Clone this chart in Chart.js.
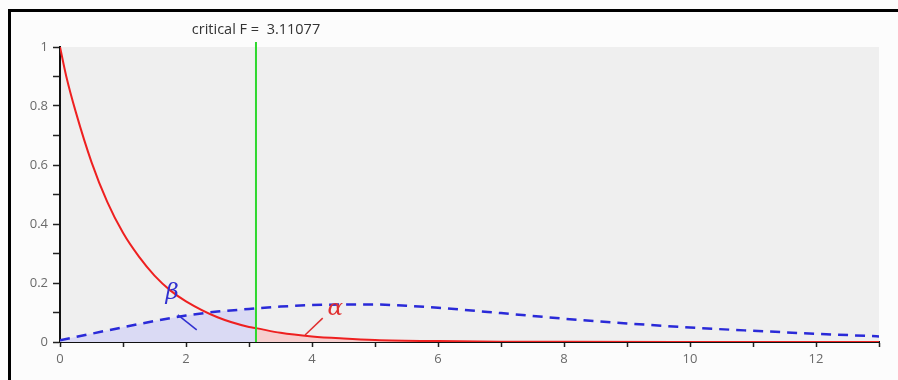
<!DOCTYPE html>
<html>
<head>
<meta charset="utf-8">
<script src="https://cdn.jsdelivr.net/npm/chart.js@4/dist/chart.umd.min.js"></script>
<style>
  html, body { margin: 0; padding: 0; background: #fff; }
  #wrap { position: relative; width: 898px; height: 380px; background: #fcfcfc; }
  #frame { position: absolute; left: 8px; top: 9px; right: 0; bottom: 0; border-top: 3px solid #000; border-left: 3px solid #000; pointer-events: none; }
  canvas { position: absolute; left: 0; top: 0; }
</style>
</head>
<body>
<div id="wrap">
  <canvas id="chart" width="898" height="380"></canvas>
  <div id="frame"></div>
</div>
<script>
const critF = 3.11077;

// central F density (red, alpha side)
const alphaX = [0, 0.1, 0.25, 0.5, 0.75, 1, 1.25, 1.5, 1.75, 2, 2.5, 3, critF, 3.5, 4, 4.5, 5, 6, 7, 8, 10, 13];
const alphaY = [1, 0.9, 0.78, 0.61, 0.475, 0.37, 0.29, 0.225, 0.175, 0.138, 0.084, 0.051, 0.047, 0.031, 0.019, 0.012, 0.007, 0.003, 0.0012, 0.0005, 0.0001, 0];

// noncentral F density (blue dashed, beta side)
const betaX = [0, 0.5, 1, 1.5, 2, 2.5, 3, critF, 3.5, 4, 4.5, 5, 5.5, 6, 7, 8, 9, 10, 11, 12, 13];
const betaY = [0.006, 0.028, 0.05, 0.071, 0.09, 0.103, 0.112, 0.114, 0.12, 0.125, 0.127, 0.127, 0.123, 0.116, 0.098, 0.079, 0.063, 0.049, 0.038, 0.028, 0.019];

const xTicks = [0, 2, 4, 6, 8, 10, 12];
const yTicks = [0, 0.2, 0.4, 0.6, 0.8, 1];

const toPts = (xs, ys) => xs.map((x, i) => ({ x: x, y: ys[i] }));
const alphaPts = toPts(alphaX, alphaY);
const betaPts = toPts(betaX, betaY);

const greyArea = {
  id: 'greyArea',
  beforeDraw(chart) {
    const { ctx, chartArea: a } = chart;
    ctx.save();
    ctx.fillStyle = '#efefef';
    ctx.fillRect(a.left, a.top, a.right - a.left, a.bottom - a.top);
    ctx.restore();
  }
};

const marks = {
  id: 'marks',
  afterDatasetsDraw(chart) {
    const { ctx, chartArea: a, scales: { x, y } } = chart;
    const px = x.getPixelForValue(critF);
    ctx.save();
    // critical value line
    ctx.strokeStyle = '#2ed82e';
    ctx.lineWidth = 2;
    ctx.beginPath();
    ctx.moveTo(px, y.getPixelForValue(0));
    ctx.lineTo(px, a.top - 5);
    ctx.stroke();
    ctx.fillStyle = '#333';
    ctx.font = '14.5px "Open Sans", sans-serif';
    ctx.textAlign = 'center';
    ctx.textBaseline = 'middle';
    ctx.fillText('critical F =  ' + critF, px, a.top - 17);

    // beta / alpha labels with pointers
    ctx.lineWidth = 1.5;
    ctx.strokeStyle = '#3030d0';
    ctx.beginPath();
    ctx.moveTo(x.getPixelForValue(1.87), y.getPixelForValue(0.092));
    ctx.lineTo(x.getPixelForValue(2.17), y.getPixelForValue(0.041));
    ctx.stroke();
    ctx.strokeStyle = '#e03030';
    ctx.beginPath();
    ctx.moveTo(x.getPixelForValue(3.89), y.getPixelForValue(0.024));
    ctx.lineTo(x.getPixelForValue(4.17), y.getPixelForValue(0.081));
    ctx.stroke();
    ctx.font = 'italic 23px "DejaVu Serif", serif';
    ctx.fillStyle = '#3030d0';
    ctx.fillText('\u03b2', x.getPixelForValue(1.78), y.getPixelForValue(0.165));
    ctx.fillStyle = '#e03030';
    ctx.fillText('\u03b1', x.getPixelForValue(4.37), y.getPixelForValue(0.112));
    ctx.restore();
  }
};

new Chart(document.getElementById('chart').getContext('2d'), {
  type: 'line',
  data: {
    datasets: [
      {
        label: 'alpha',
        data: alphaPts,
        borderColor: '#ee2020',
        borderWidth: 2,
        pointRadius: 0,
        cubicInterpolationMode: 'monotone',
        fill: false,
        order: 1
      },
      {
        label: 'beta',
        data: betaPts,
        borderColor: '#2a2ad8',
        borderWidth: 2.5,
        borderDash: [10, 7],
        pointRadius: 0,
        cubicInterpolationMode: 'monotone',
        fill: false,
        order: 2
      },
      {
        label: 'alpha area',
        data: alphaPts.filter(p => p.x >= critF),
        borderWidth: 0,
        backgroundColor: '#f6cfcf',
        pointRadius: 0,
        cubicInterpolationMode: 'monotone',
        fill: 'origin',
        order: 3
      },
      {
        label: 'beta area',
        data: betaPts.filter(p => p.x <= critF),
        borderWidth: 0,
        backgroundColor: '#dadaf4',
        pointRadius: 0,
        cubicInterpolationMode: 'monotone',
        fill: 'origin',
        order: 4
      }
    ]
  },
  options: {
    responsive: false,
    animation: false,
    layout: { padding: { top: 47, right: 19, left: 0, bottom: 0 } },
    plugins: {
      legend: { display: false },
      tooltip: { enabled: false }
    },
    scales: {
      x: {
        type: 'linear',
        min: 0,
        max: 13,
        afterFit(s) { s.height = 38; },
        border: { color: '#111', width: 2 },
        grid: { drawOnChartArea: false, tickLength: 5, tickColor: '#222', tickWidth: 1.5 },
        ticks: {
          stepSize: 1,
          padding: 4,
          color: '#6a6a6a',
          font: { family: '"Open Sans", sans-serif', size: 13 },
          callback: v => xTicks.includes(v) ? String(v) : ''
        }
      },
      y: {
        min: 0,
        max: 1,
        afterFit(s) { s.width = 60; },
        border: { color: '#111', width: 2 },
        grid: { drawOnChartArea: false, tickLength: 7, tickColor: '#222', tickWidth: 1.5 },
        ticks: {
          stepSize: 0.1,
          padding: 5,
          color: '#6a6a6a',
          font: { family: '"Open Sans", sans-serif', size: 13 },
          callback: v => {
            const r = Math.round(v * 10) / 10;
            return yTicks.includes(r) ? String(r) : '';
          }
        }
      }
    }
  },
  plugins: [greyArea, marks]
});
</script>
</body>
</html>
